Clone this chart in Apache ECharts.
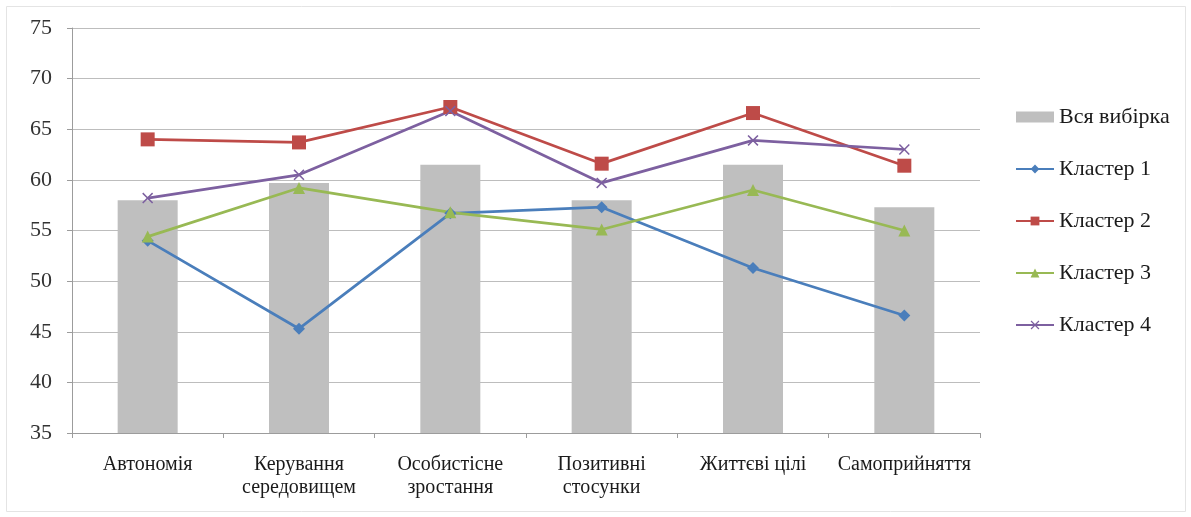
<!DOCTYPE html>
<html>
<head>
<meta charset="utf-8">
<script src="https://cdn.jsdelivr.net/npm/echarts@6/dist/echarts.min.js"></script>
<style>
  html, body { margin: 0; padding: 0; background: #fff; }
  #chart { width: 1191px; height: 517px; }
</style>
</head>
<body>
<div id="chart"></div>
<script>
// Scales of psychological well-being
const categories = ['Автономія', 'Керування\nсередовищем', 'Особистісне\nзростання', 'Позитивні\nстосунки', 'Життєві цілі', 'Самоприйняття'];
const wholeSample = [58.0, 59.7, 61.5, 58.0, 61.5, 57.3];
const cluster1 = [54.0, 45.3, 56.7, 57.3, 51.3, 46.6];
const cluster2 = [64.0, 63.7, 67.2, 61.6, 66.6, 61.4];
const cluster3 = [54.4, 59.2, 56.8, 55.1, 59.0, 55.0];
const cluster4 = [58.2, 60.5, 66.8, 59.7, 63.9, 63.0];
const yTicks = { min: 35, max: 75, step: 5 };

const serif = '"Liberation Serif", "DejaVu Serif", serif';
const crossSymbol = 'path://M0,1L1,0L5,4L9,0L10,1L6,5L10,9L9,10L5,6L1,10L0,9L4,5Z';

function lineSeries(name, data, color, symbol, size) {
  return {
    name, type: 'line', data,
    symbol, symbolSize: size,
    lineStyle: { color, width: 2.75 },
    itemStyle: { color },
    z: 3
  };
}

const chart = echarts.init(document.getElementById('chart'), null, { renderer: 'canvas' });
chart.setOption({
  animation: false,
  backgroundColor: '#ffffff',
  graphic: [{
    type: 'rect', silent: true,
    shape: { x: 6.5, y: 6.5, width: 1179, height: 505 },
    style: { fill: 'none', stroke: '#e4e4e4', lineWidth: 1 }
  }],
  grid: { left: 72, right: 211, top: 28, bottom: 84 },
  legend: {
    orient: 'vertical',
    left: 1010, top: 100,
    itemWidth: 38, itemHeight: 11, itemGap: 28,
    textStyle: { fontFamily: serif, fontSize: 22, color: '#1a1a1a', lineHeight: 24 },
    data: [
      { name: 'Вся вибірка', icon: 'rect' },
      'Кластер 1', 'Кластер 2', 'Кластер 3', 'Кластер 4'
    ]
  },
  xAxis: {
    type: 'category',
    data: categories,
    axisLine: { lineStyle: { color: '#9c9c9c', width: 1 } },
    axisTick: { show: true, interval: 0, length: 5, lineStyle: { color: '#9c9c9c' } },
    axisLabel: { interval: 0, hideOverlap: false, fontFamily: serif, fontSize: 20, color: '#1a1a1a', lineHeight: 23, margin: 20 }
  },
  yAxis: {
    type: 'value',
    min: yTicks.min, max: yTicks.max, interval: yTicks.step,
    axisLine: { show: true, lineStyle: { color: '#9c9c9c', width: 1 } },
    axisTick: { show: true, length: 5, lineStyle: { color: '#9c9c9c' } },
    splitLine: { lineStyle: { color: '#bdbdbd', width: 1 } },
    axisLabel: { fontFamily: serif, fontSize: 22, color: '#333333', margin: 20 }
  },
  series: [
    {
      name: 'Вся вибірка', type: 'bar', data: wholeSample,
      barWidth: 60,
      itemStyle: { color: '#bfbfbf' },
      z: 2
    },
    lineSeries('Кластер 1', cluster1, '#4a7ebb', 'diamond', 12),
    lineSeries('Кластер 2', cluster2, '#be4b48', 'rect', 14),
    lineSeries('Кластер 3', cluster3, '#98b954', 'triangle', 12),
    lineSeries('Кластер 4', cluster4, '#7d60a0', crossSymbol, 11)
  ]
});
</script>
</body>
</html>
